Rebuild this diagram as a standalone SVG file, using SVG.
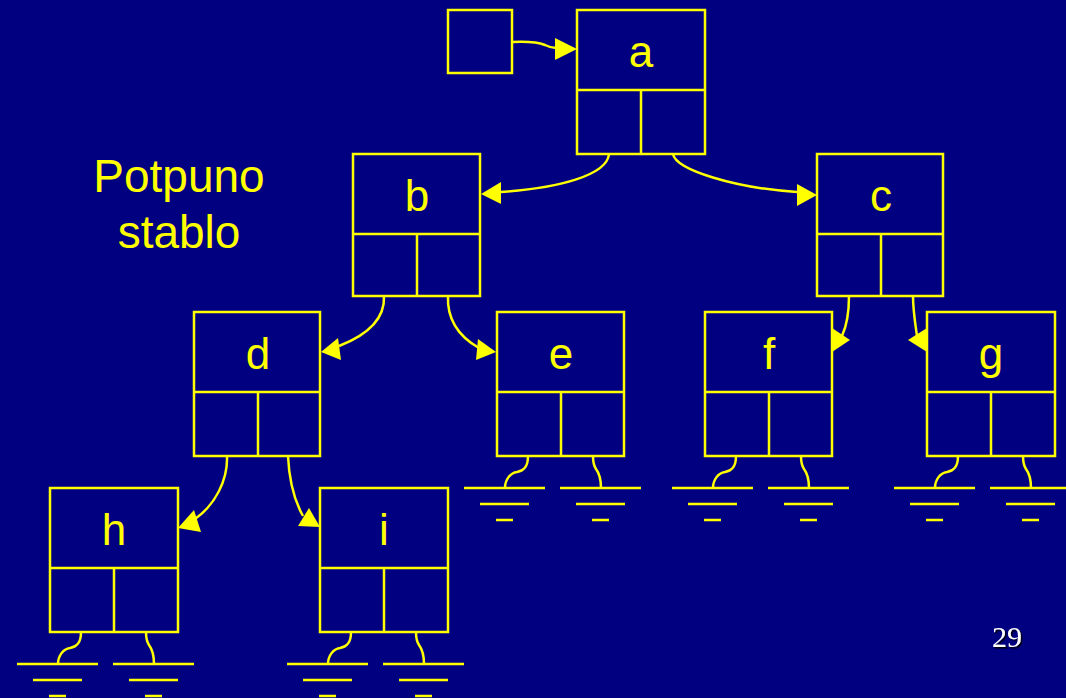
<svg xmlns="http://www.w3.org/2000/svg" width="1066" height="698" viewBox="0 0 1066 698">
<style>
.box{fill:none;stroke:#ffff00;stroke-width:2.5}
.wire{fill:none;stroke:#ffff00;stroke-width:2.5}
.head{fill:#ffff00;stroke:none}
.lbl{font-family:"Liberation Sans",Arial,sans-serif;font-size:44px;fill:#ffff00;text-anchor:middle}
.title{font-family:"Liberation Sans",Arial,sans-serif;font-size:46px;fill:#ffff00;text-anchor:middle}
.num{font-family:"Liberation Serif","Times New Roman",serif;font-size:30px;fill:#ffffff}
</style>
<defs>
<filter id="shadow" x="-20%" y="-20%" width="140%" height="140%">
<feDropShadow dx="1.5" dy="1.5" stdDeviation="0.3" flood-color="#000000" flood-opacity="0.9"/>
</filter>
<g id="ground" class="wire">
<path d="M31,0 C31,12 26,15 20,16 C13,17 8,24 8,32"/>
<path d="M96,0 C96,8 97,10 99,13 C102,17 104,22 104,32"/>
<path d="M-33,32 H48 M-17,48 H32 M-1,64 H16"/>
<path d="M63,32 H144 M79,48 H128 M95,64 H112"/>
</g>
</defs>
<rect x="0" y="0" width="1066" height="698" fill="#000080"/>

<g id="head-pointer">
<rect class="box" x="448" y="10" width="64" height="63"/>
</g>

<g id="node-a">
<rect class="box" x="577" y="10" width="128" height="144"/>
<path class="box" d="M577,90 H705 M641,90 V154"/>
<text class="lbl" x="641" y="67">a</text>
</g>

<g id="node-b">
<rect class="box" x="353" y="154" width="127" height="142"/>
<path class="box" d="M353,234 H480 M417,234 V296"/>
<text class="lbl" x="417" y="211">b</text>
</g>

<g id="node-c">
<rect class="box" x="817" y="154" width="126" height="142"/>
<path class="box" d="M817,234 H943 M881,234 V296"/>
<text class="lbl" x="881" y="211">c</text>
</g>

<g id="node-d">
<rect class="box" x="194" y="312" width="126" height="144"/>
<path class="box" d="M194,392 H320 M258,392 V456"/>
<text class="lbl" x="258" y="369">d</text>
</g>

<g id="node-e">
<rect class="box" x="497" y="312" width="127" height="144"/>
<path class="box" d="M497,392 H624 M561,392 V456"/>
<text class="lbl" x="561" y="369">e</text>
<use href="#ground" transform="translate(497,456)"/>
</g>

<g id="node-f">
<rect class="box" x="705" y="312" width="127" height="144"/>
<path class="box" d="M705,392 H832 M769,392 V456"/>
<text class="lbl" x="769" y="369">f</text>
<use href="#ground" transform="translate(705,456)"/>
</g>

<g id="node-g">
<rect class="box" x="927" y="312" width="128" height="144"/>
<path class="box" d="M927,392 H1055 M991,392 V456"/>
<text class="lbl" x="991" y="369">g</text>
<use href="#ground" transform="translate(927,456)"/>
</g>

<g id="node-h">
<rect class="box" x="50" y="488" width="128" height="144"/>
<path class="box" d="M50,568 H178 M114,568 V632"/>
<text class="lbl" x="114" y="545">h</text>
<use href="#ground" transform="translate(50,632)"/>
</g>

<g id="node-i">
<rect class="box" x="320" y="488" width="128" height="144"/>
<path class="box" d="M320,568 H448 M384,568 V632"/>
<text class="lbl" x="384" y="545">i</text>
<use href="#ground" transform="translate(320,632)"/>
</g>

<g id="connectors">
<path class="wire" d="M512,42 C532,41 540,43 545,45 C549,47 552,48 556,48"/>
<polygon class="head" points="577,49 555,38 555,60"/>
<path class="wire" d="M609,154 C607,175 560,188 500,192"/>
<polygon class="head" points="481,194 501,182 501,204"/>
<path class="wire" d="M673,154 C676,170 735,188 797,192"/>
<polygon class="head" points="817,195 797,184 797,206"/>
<path class="wire" d="M384,296 C385,318 370,334 339,346"/>
<polygon class="head" points="321,352 338,338 341,360"/>
<path class="wire" d="M448,296 C447,318 458,336 479,348"/>
<polygon class="head" points="496,352 478,339 476,360"/>
<path class="wire" d="M849,296 C849,312 847,325 842,336"/>
<polygon class="head" points="850,340 832,328 832,352"/>
<path class="wire" d="M913,296 C913,310 915,322 917,336"/>
<polygon class="head" points="908,340 927,328 927,352"/>
<path class="wire" d="M227,456 C228,480 215,505 195,519"/>
<polygon class="head" points="178,528 194,510 201,532"/>
<path class="wire" d="M288,456 C289,478 294,500 303,516"/>
<polygon class="head" points="320,527 298,526 309,508"/>
</g>

<g id="title">
<text class="title" x="179" y="192">Potpuno</text>
<text class="title" x="179" y="248">stablo</text>
</g>

<text class="num" x="992" y="647" filter="url(#shadow)">29</text>
</svg>
